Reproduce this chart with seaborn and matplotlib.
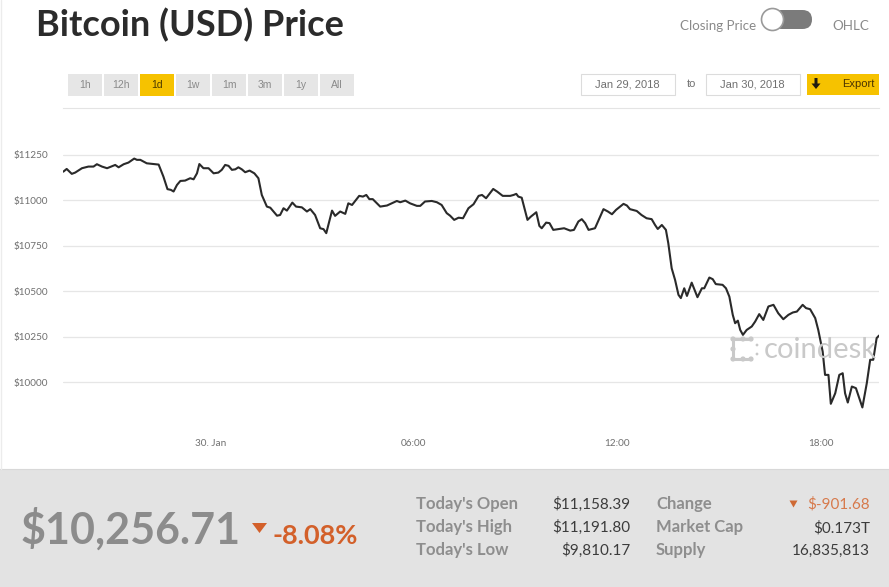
import matplotlib
matplotlib.use("Agg")
import matplotlib.pyplot as plt
from matplotlib.patches import Rectangle, FancyBboxPatch, Circle, Polygon
from matplotlib.lines import Line2D
from matplotlib.transforms import Affine2D
import seaborn as sns
import pandas as pd

# hours relative to 30 Jan 2018 00:00
hours = [
    -4.33, -4.23, -4.08, -3.98, -3.78, -3.59, -3.44, -3.34, -3.19, -3.04,
    -2.80, -2.70, -2.55, -2.41, -2.24, -2.16, -2.06, -1.87, -1.67, -1.52,
    -1.38, -1.26, -1.16, -1.08, -0.98, -0.88, -0.74, -0.59, -0.49, -0.39,
    -0.32, -0.20, -0.05, 0.10, 0.24, 0.34, 0.44, 0.54, 0.64, 0.74,
    0.83, 0.93, 1.03, 1.16, 1.30, 1.42, 1.52, 1.67, 1.77, 1.97, 2.06,
    2.16, 2.26, 2.42, 2.53, 2.70, 2.85, 2.95, 3.09, 3.24, 3.34,
    3.42, 3.59, 3.68, 3.83, 3.98, 4.07, 4.18, 4.39, 4.50, 4.60,
    4.69, 4.79, 5.01, 5.21, 5.50, 5.60, 5.75, 5.89, 6.09, 6.19,
    6.33, 6.53, 6.68, 6.82, 6.97, 7.07, 7.19, 7.32, 7.45, 7.61,
    7.76, 7.91, 8.01, 8.13, 8.34, 8.46, 8.62, 8.84, 8.94, 9.02,
    9.08, 9.18, 9.35, 9.45, 9.61, 9.70, 9.77, 9.90, 10.00, 10.11, 10.26,
    10.43, 10.61, 10.72, 10.85, 10.95, 11.05, 11.15, 11.25, 11.34, 11.47,
    11.59, 11.72, 11.84, 11.96, 12.18, 12.28, 12.37, 12.57, 12.71, 12.86,
    13.01, 13.11, 13.19, 13.31, 13.43, 13.50, 13.60, 13.70, 13.80, 13.87,
    13.97, 14.05, 14.19, 14.36, 14.49, 14.56, 14.71, 14.81, 14.90, 15.10,
    15.20, 15.30, 15.40, 15.47, 15.55, 15.62,
    15.70, 15.81, 15.96, 16.06, 16.18, 16.30, 16.45, 16.60, 16.74, 16.89,
    17.04, 17.17, 17.29, 17.46, 17.56, 17.68, 17.83, 17.92, 18.05, 18.12,
    18.22, 18.29, 18.42, 18.54, 18.64, 18.71, 18.79, 18.91, 19.03, 19.22,
    19.35, 19.45, 19.54, 19.64, 19.71,
]
price = [
    11158, 11173, 11146, 11153, 11177, 11186, 11186, 11199, 11186, 11177,
    11195, 11182, 11199, 11208, 11230, 11223, 11223, 11204, 11200, 11197,
    11131, 11062, 11058, 11049, 11085, 11107, 11109, 11122, 11116, 11149,
    11200, 11177, 11177, 11149, 11153, 11168, 11195, 11190, 11168, 11171,
    11182, 11171, 11155, 11164, 11149, 11122, 11030, 10966, 10960, 10916, 10920,
    10957, 10944, 10988, 10966, 10962, 10939, 10952, 10920, 10847, 10842,
    10820, 10944, 10915, 10939, 10926, 10984, 10975, 11025, 11021, 11030,
    11007, 11007, 10966, 10972, 10997, 10990, 10999, 10984, 10970, 10970,
    10994, 10997, 10990, 10975, 10930, 10916, 10893, 10905, 10902, 10957,
    10979, 11025, 11030, 11012, 11063, 11048, 11025, 11025, 11030, 11036,
    11021, 11015, 10893, 10911, 10935, 10860, 10847, 10878, 10875, 10838, 10842,
    10847, 10834, 10838, 10884, 10897, 10875, 10838, 10843, 10847, 10902,
    10952, 10939, 10924, 10948, 10981, 10972, 10952, 10942, 10920, 10902,
    10897, 10865, 10843, 10865, 10838, 10765, 10627, 10563, 10481, 10463,
    10517, 10475, 10548, 10468, 10517, 10517, 10576, 10567, 10540, 10536,
    10517, 10471, 10371, 10325, 10339, 10288,
    10261, 10288, 10307, 10334, 10375, 10343, 10417, 10426, 10380, 10347,
    10371, 10384, 10389, 10426, 10408, 10402, 10353, 10288, 10169, 10041,
    10041, 9882, 9940, 10041, 10050, 9940, 9889, 9977, 9968, 9862,
    9995, 10124, 10124, 10243, 10257,
]

y_ticks = [10000, 10250, 10500, 10750, 11000, 11250]
x_ticks = [0, 6, 12, 18]
x_labels = ["30. Jan", "06:00", "12:00", "18:00"]

ranges = ["1h", "12h", "1d", "1w", "1m", "3m", "1y", "All"]
active_range = "1d"
date_from = "Jan 29, 2018"
date_to = "Jan 30, 2018"

last_price = "$10,256.71"
pct_change = "-8.08%"
stat_names_left = ["Today's Open", "Today's High", "Today's Low"]
stat_values_left = ["$11,158.39", "$11,191.80", "$9,810.17"]
stat_names_right = ["Change", "Market Cap", "Supply"]
stat_values_right = ["$-901.68", "$0.173T", "16,835,813"]

W, H = 889, 587
YELLOW = "#f6c200"
ORANGE = "#d3602a"

sns.set_style("white")
plt.rcParams["font.family"] = ["Lato", "DejaVu Sans"]

fig = plt.figure(figsize=(W / 100, H / 100), dpi=100)
# pixel coords (origin top-left) -> figure
PX = Affine2D().scale(1 / W, -1 / H).translate(0, 1) + fig.transFigure


def box(x0, y0, x1, y1, **kw):
    fig.add_artist(Rectangle((x0, y0), x1 - x0, y1 - y0, transform=PX, **kw))


def label(x, y, s, **kw):
    fig.text(x, y, s, transform=PX, **kw)


# title and toggle
label(36, 36.7, "Bitcoin (USD) Price", fontsize=26, fontweight="bold",
      color="#2b2b2b", va="baseline")
label(756, 30, "Closing Price", fontsize=9.6, color="#8a8a8a", ha="right", va="baseline")
fig.add_artist(FancyBboxPatch((772, 10), 40, 19, boxstyle="round,pad=0,rounding_size=9.5",
                              transform=PX, facecolor="#7b7b7b", edgecolor="none"))
fig.add_artist(Circle((772.5, 19.5), 11, transform=PX, facecolor="white",
                      edgecolor="#9a9a9a", linewidth=1.2))
label(832, 30, "OHLC", fontsize=9.6, color="#8a8a8a", va="baseline")

# range buttons
for i, r in enumerate(ranges):
    x0 = 68 + 36 * i
    on = r == active_range
    box(x0, 74, x0 + 34, 95.5, facecolor=YELLOW if on else "#e6e6e6", edgecolor="none")
    label(x0 + 17, 87.5, r, fontsize=7.5, family="Liberation Sans",
          color="#4a3a00" if on else "#8a8a8a", ha="center", va="baseline")

# date range + export
box(580.5, 73.5, 675, 95, facecolor="white", edgecolor="#dcdcdc", linewidth=0.8)
label(627.7, 87.3, date_from, fontsize=8, family="Liberation Sans", color="#707070",
      ha="center", va="baseline")
label(691, 87.3, "to", fontsize=8, family="Liberation Sans", color="#707070",
      ha="center", va="baseline")
box(705.5, 73.5, 799.5, 95, facecolor="white", edgecolor="#dcdcdc", linewidth=0.8)
label(752.5, 87.3, date_to, fontsize=8, family="Liberation Sans", color="#707070",
      ha="center", va="baseline")
box(807.3, 74, 879, 95, facecolor=YELLOW, edgecolor="none")
fig.add_artist(Polygon([(814.5, 78), (817.5, 78), (817.5, 83.5), (820.5, 83.5), (816, 89),
                        (811.5, 83.5), (814.5, 83.5)], transform=PX,
                       facecolor="#1e1a10", edgecolor="none"))
label(858, 86.7, "Export", fontsize=8, family="Liberation Sans", color="#4a3300",
      ha="center", va="baseline")

# summary panel
box(0, 469, W, H, facecolor="#e3e3e3", edgecolor="none", zorder=0)
fig.add_artist(Line2D([0, W], [469, 469], transform=PX, color="#d8d8d8", linewidth=0.8))
fig.add_artist(Line2D([1, 1], [0, 469], transform=PX, color="#ececec", linewidth=1))

# chart
ax = fig.add_axes([63.3 / W, 1 - 428 / H, (879 - 63.3) / W, (428 - 108) / H])
df = pd.DataFrame({"hours": hours, "price": price})
sns.lineplot(data=df, x="hours", y="price", ax=ax, color="#2a2a2a", linewidth=1.5)
ax.set_xlim(hours[0], hours[-1])
ax.set_ylim(9749, 11508)
ax.set_xlabel("")
ax.set_ylabel("")
ax.set_yticks(y_ticks)
ax.set_yticklabels([f"${v}" for v in y_ticks])
ax.set_xticks(x_ticks)
ax.set_xticklabels(x_labels)
ax.grid(axis="y", color="#e6e6e6", linewidth=0.9)
ax.grid(axis="x", visible=False)
for side in ["left", "right", "bottom"]:
    ax.spines[side].set_visible(False)
ax.spines["top"].set_color("#e4e4e4")
ax.spines["top"].set_linewidth(0.8)
ax.tick_params(axis="y", length=0, pad=11, labelsize=7.2, labelcolor="#707070")
ax.tick_params(axis="x", length=6.5, width=0.7, color="#cccccc", pad=1.5,
               labelsize=7.2, labelcolor="#707070")

# watermark
wm = "#c9c9c9"
for seg in [[(733, 339), (751, 339)], [(733, 339), (733, 359)], [(733, 359), (751, 359)]]:
    xs, ys = zip(*seg)
    fig.add_artist(Line2D(xs, ys, transform=PX, color=wm, linewidth=2.2))
for cx, cy in [(733, 339), (733, 349), (733, 359), (743, 339), (751, 339), (743, 359), (751, 359)]:
    fig.add_artist(Circle((cx, cy), 2.6, transform=PX, facecolor=wm, edgecolor="none"))
for cx, cy in [(757, 345), (757, 354)]:
    fig.add_artist(Circle((cx, cy), 1.4, transform=PX, facecolor=wm, edgecolor="none"))
label(764, 358, "coindesk", fontsize=21, color=wm, va="baseline")

# price + change
label(21, 544, last_price, fontsize=31, fontweight="bold", color="#8c8c8c", va="baseline")
fig.add_artist(Polygon([(252, 523), (267, 523), (259.5, 533)], transform=PX,
                       facecolor=ORANGE, edgecolor="none"))
label(272, 544, pct_change, fontsize=19.5, fontweight="bold", color=ORANGE, va="baseline")

# stats
for i in range(3):
    yb = 509 + 23 * i
    label(416, yb, stat_names_left[i], fontsize=12, fontweight="bold", color="#8e8e8e", va="baseline")
    label(630, yb, stat_values_left[i], fontsize=11, color="#3c3c3c", ha="right", va="baseline")
    label(656, yb, stat_names_right[i], fontsize=12, fontweight="bold", color="#8e8e8e", va="baseline")
    label(870, yb, stat_values_right[i], fontsize=11, ha="right", va="baseline",
          color="#d77a4c" if i == 0 else "#3c3c3c")
fig.add_artist(Polygon([(789.5, 500.5), (797.5, 500.5), (793.5, 507.5)], transform=PX,
                       facecolor="#cf6a35", edgecolor="none"))

fig.savefig("out.png", dpi=100)
